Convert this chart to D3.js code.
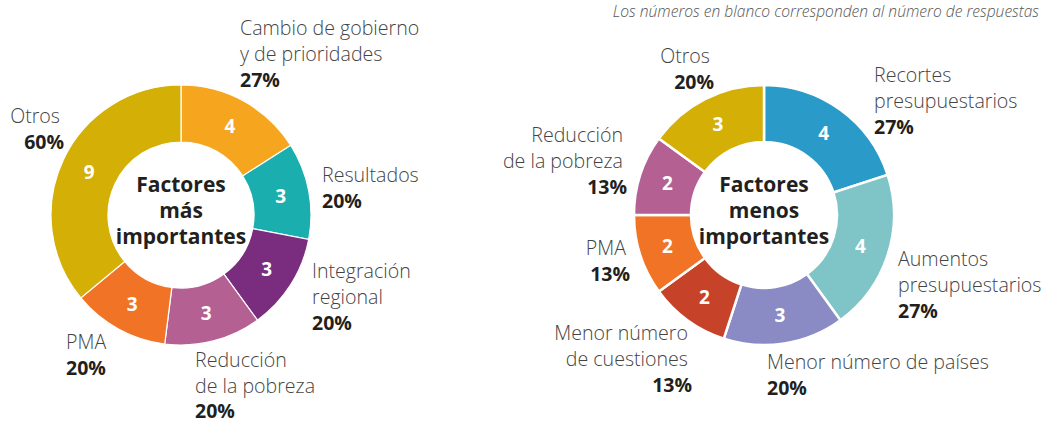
<!DOCTYPE html>
<html><head><meta charset="utf-8">
<script src="https://cdn.jsdelivr.net/npm/d3@7"></script>
<style>
body{margin:0;background:#fff;}
svg text{font-family:"Open Sans","Noto Sans",sans-serif;}
</style></head>
<body><svg id="c" width="1047" height="424"></svg>
<script>
// Left donut: Factores más importantes
const leftCategories = ["Cambio de gobierno|y de prioridades","Resultados","Integración|regional","Reducción|de la pobreza","PMA","Otros"];
const leftValues = [4,3,3,3,3,9];
const leftPercents = ["27%","20%","20%","20%","20%","60%"];
const leftColors = ["#F6A51F","#1AAFAE","#7A2C7E","#B46093","#F17325","#D4AF06"];
// Right donut: Factores menos importantes
const rightCategories = ["Recortes|presupuestarios","Aumentos|presupuestarios","Menor número de países","Menor número|de cuestiones","PMA","Reducción|de la pobreza","Otros"];
const rightValues = [4,4,3,2,2,2,3];
const rightPercents = ["27%","27%","20%","13%","13%","13%","20%"];
const rightColors = ["#2A9BC9","#7FC4C6","#8A8BC5","#C64329","#F17325","#B46093","#D4AF06"];

const svg = d3.select("#c");

// label placement (layout only)
const leftLabelPos = [
  {x:240,y:35,a:"start"},{x:322,y:182,a:"start"},{x:312,y:278,a:"start"},
  {x:195,y:367,a:"start",ls:25.5},{x:66,y:349,a:"start"},{x:60,y:123,a:"end"}];
const rightLabelPos = [
  {x:874,y:82,a:"start"},{x:898,y:266,a:"start"},{x:767,y:369,a:"start"},
  {x:688,y:340,a:"end"},{x:626,y:255,a:"end"},{x:623,y:142,a:"end"},{x:710,y:63,a:"end"}];

function donut(cx, cy, values, cats, pcts, colors, labelPos, title, sep){
  const g = svg.append("g").attr("transform",`translate(${cx},${cy})`);
  const pie = d3.pie().sort(null).value(d=>d)(values);
  const R = 130, r = 73;
  const arc = d3.arc().innerRadius(r).outerRadius(R);
  const mid = d3.arc().innerRadius((r+R)/2).outerRadius((r+R)/2);
  g.selectAll("path.s").data(pie).join("path").attr("class","s")
    .attr("d",arc).attr("fill",(d,i)=>colors[i])
    .attr("stroke","#fff").attr("stroke-width",sep);
  g.selectAll("text.n").data(pie).join("text").attr("class","n")
    .attr("transform",d=>`translate(${mid.centroid(d)})`)
    .attr("text-anchor","middle").attr("dy","0.36em")
    .attr("fill","#fff").attr("font-weight",700).attr("font-size",19)
    .text(d=>d.data);
  const t = g.append("text").attr("text-anchor","middle")
    .attr("font-weight",700).attr("font-size",21).attr("fill","#231f20");
  title.forEach((s,i)=>t.append("tspan").attr("x",0).attr("y",-23+i*26).text(s));
  cats.forEach((c,i)=>{
    const p = labelPos[i];
    const ls = p.ls || 26;
    const lines = c.split("|");
    const tx = svg.append("text").attr("text-anchor",p.a).attr("font-size",19.6);
    lines.forEach((s,j)=>tx.append("tspan").attr("x",p.x).attr("y",p.y+j*ls)
      .attr("font-weight",300).attr("fill","#444").text(s));
    tx.append("tspan").attr("x",p.a==="end"?p.x+4:p.x).attr("y",p.y+lines.length*ls)
      .attr("font-weight",700).attr("font-size",19.5).attr("fill","#231f20").text(pcts[i]);
  });
}
donut(181,215,leftValues,leftCategories,leftPercents,leftColors,leftLabelPos,["Factores","más","importantes"],1.2);
donut(764,215,rightValues,rightCategories,rightPercents,rightColors,rightLabelPos,["Factores","menos","importantes"],2.5);

svg.append("text").attr("x",1039).attr("y",17).attr("text-anchor","end")
  .attr("font-style","italic").attr("font-weight",300).attr("font-size",15.6).attr("fill","#555")
  .text("Los números en blanco corresponden al número de respuestas");
</script></body></html>
